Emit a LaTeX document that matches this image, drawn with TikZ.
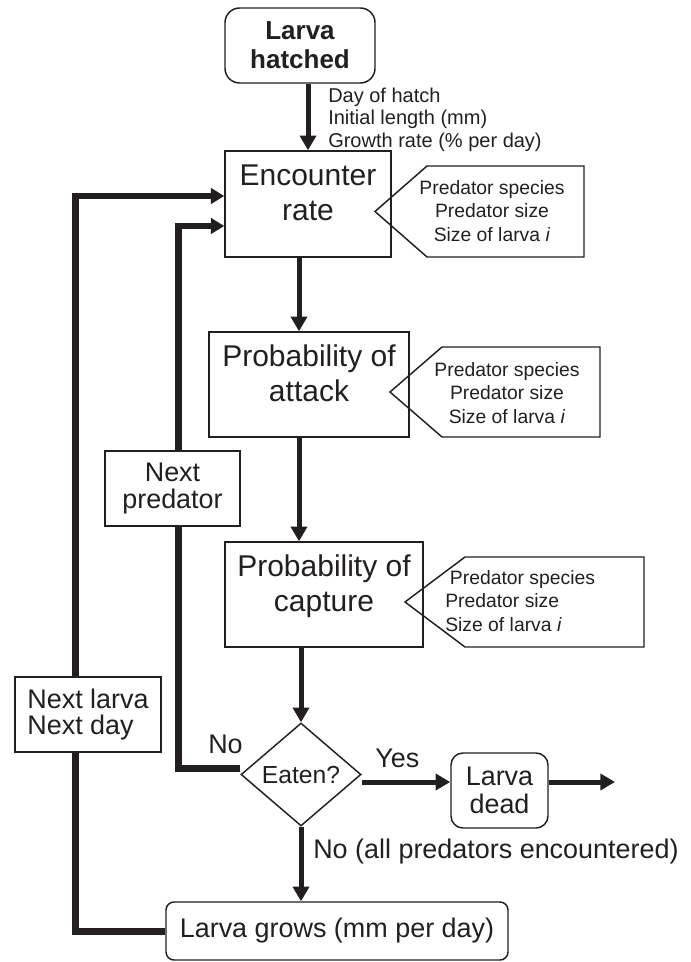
\documentclass[tikz,border=0pt]{standalone}
\usepackage{fontspec}
\setmainfont{Liberation Sans}
\usetikzlibrary{arrows.meta,shapes.geometric}
\definecolor{ink}{RGB}{35,31,32}
\begin{document}
\begin{tikzpicture}[x=0.75pt,y=-0.75pt,
  box/.style={draw=ink, line width=1.1pt, inner sep=0pt, align=center, text=ink},
  rbox/.style={box, rounded corners=#1},
  bigtxt/.style={font=\fontsize{22.5}{26}\selectfont, text depth=17pt},
  medtxt/.style={font=\fontsize{20.2}{20.5}\selectfont},
  smalltxt/.style={font=\fontsize{14.5}{17.5}\selectfont, text=ink, inner sep=0pt},
  mainarrow/.style={draw=ink, line width=3.75pt, -{Triangle[length=11pt,width=12pt]}},
  loopv/.style={draw=ink, line width=5.25pt},
  looptop/.style={draw=ink, line width=4.1pt, -{Triangle[length=10pt,width=11.5pt]}},
  tagshape/.style={draw=ink, line width=1.1pt, line join=miter}
]
\useasboundingbox (0,0) rectangle (690,962);

% main boxes
\node[rbox=11pt, minimum width=150*0.75pt, minimum height=75*0.75pt,
      font=\fontsize{19.5}{21.75}\selectfont\bfseries] (hatch) at (300,45.5) {Larva\\hatched};
\node[box, bigtxt, minimum width=166*0.75pt, minimum height=106*0.75pt] (enc) at (308,204) {Encounter\\rate};
\node[box, bigtxt, minimum width=200*0.75pt, minimum height=105*0.75pt] (att) at (309,384.5) {Probability of\\attack};
\node[box, bigtxt, minimum width=198*0.75pt, minimum height=105*0.75pt] (cap) at (324,594.5) {Probability of\\capture};
\node[box, diamond, minimum width=120*0.75pt, minimum height=103*0.75pt,
      font=\fontsize{18.5}{20}\selectfont] (eat) at (301,774.5) {Eaten?};
\node[rbox=9pt, medtxt, minimum width=97*0.75pt, minimum height=75*0.75pt] (dead) at (499.5,790.5) {Larva\\dead};
\node[rbox=6pt, medtxt, minimum width=342*0.75pt, minimum height=58*0.75pt] (grows) at (337,931) {Larva grows (mm per day)};

% inputs text
\node[smalltxt, font=\fontsize{15}{17}\selectfont, anchor=north west, align=left] (hinfo) at (328,87.5)
  {Day of hatch\\Initial length (mm)\\Growth rate (\% per day)};

% tag shapes
\draw[tagshape] (375,211.5) -- (427,166) -- (584,166) -- (584,257) -- (427,257) -- cycle;
\node[smalltxt, align=center] (enctag) at (492,211) {Predator species\\Predator size\\Size of larva \textit{i}};
\draw[tagshape] (390,392) -- (442,347) -- (600,347) -- (600,437) -- (442,437) -- cycle;
\node[smalltxt, align=center] (atttag) at (507,393) {Predator species\\Predator size\\Size of larva \textit{i}};
\draw[tagshape] (405,602) -- (465,557) -- (644,557) -- (644,647) -- (465,647) -- cycle;
\node[smalltxt, align=left, anchor=west] (captag) at (445,601) {\hspace{3.5pt}Predator species\\Predator size\\Size of larva \textit{i}};

% main arrows
\draw[mainarrow] (enc.north |- hatch.south) -- (enc.north);
\coordinate (spine) at (299,0);
\draw[mainarrow] (spine |- enc.south) -- (spine |- att.north);
\draw[mainarrow] (spine |- att.south) -- (spine |- cap.north);
\draw[mainarrow] (eat.north |- cap.south) -- (eat.north);
\draw[mainarrow] (eat.south) -- (eat.south |- grows.north);
\coordinate (yesy) at (0,782);
\draw[mainarrow] (eat.east |- yesy) -- (dead.west |- yesy);
\coordinate (deadend) at (615,782);
\draw[mainarrow] (dead.east |- yesy) -- (deadend);

% loops
\coordinate (otop) at (75,193.5);
\coordinate (otopc) at (75,196);
\draw[loopv] (grows.west) -| (otop);
\draw[looptop] (otopc) -- (enc.west |- otopc);
\coordinate (itop) at (178,223.5);
\coordinate (itopc) at (178,226);
\draw[loopv] ([yshift=4.5pt]eat.west) -| (itop);
\draw[looptop] (itopc) -- (enc.west |- itopc);

% loop boxes
\node[box, fill=white, minimum width=135*0.75pt, minimum height=75*0.75pt,
      font=\fontsize{20.2}{20.25}\selectfont] (npred) at (172.5,488.5) {Next\\predator};
\node[box, fill=white, align=left, minimum width=146*0.75pt, minimum height=75*0.75pt,
      font=\fontsize{20.2}{19}\selectfont] (nlarva) at (88,714.5) {Next larva\\Next day};

% labels
\node[medtxt, text=ink, anchor=base west, inner sep=0pt] (yes) at (375,767) {Yes};
\node[medtxt, text=ink, anchor=base west, inner sep=0pt] (no) at (208,753) {No};
\node[medtxt, text=ink, anchor=base west, inner sep=0pt] (noall) at (313,858) {No (all predators encountered)};
\end{tikzpicture}
\end{document}
